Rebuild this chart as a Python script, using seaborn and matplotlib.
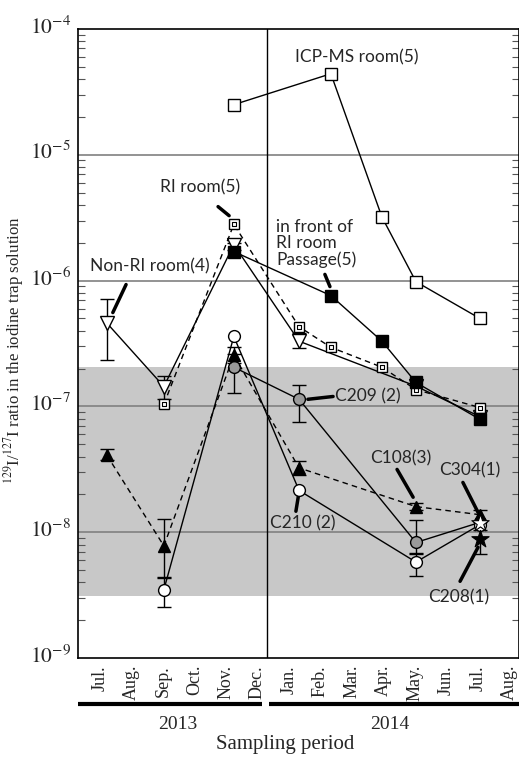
import numpy as np
import matplotlib
matplotlib.use("Agg")
import matplotlib.pyplot as plt
import matplotlib.ticker as mticker
import matplotlib.transforms as mtransforms
import seaborn as sns

# ---------------- data ----------------
months = ["Jul.", "Aug.", "Sep.", "Oct.", "Nov.", "Dec.", "Jan.", "Feb.",
          "Mar.", "Apr.", "May.", "Jun.", "Jul.", "Aug."]
years = ["2013", "2014"]
decades = [1e-9, 1e-8, 1e-7, 1e-6, 1e-5, 1e-4]
year_divider = 5.3          # month-index position of the 2013/2014 boundary
band_lo, band_hi = 3.1e-9, 2.05e-7   # grey range band

# sampling dates as fractional month index (0 = Jul. 2013)
icp_x = [4.25, 7.33, 8.95, 10.03, 12.06]
icp_y = [2.5e-5, 4.4e-5, 3.2e-6, 9.8e-7, 5.0e-7]

pass_x = [4.25, 7.33, 8.95, 10.03, 12.06]
pass_y = [1.70e-6, 7.6e-7, 3.3e-7, 1.55e-7, 7.9e-8]

ri_x = [2.03, 4.25, 6.32, 7.33, 8.95, 10.03, 12.06]
ri_y = [1.04e-7, 2.8e-6, 4.3e-7, 2.95e-7, 2.05e-7, 1.36e-7, 9.8e-8]

nonri_x = [0.22, 2.03, 4.25, 6.32, 10.03, 12.06]
nonri_y = [4.6e-7, 1.44e-7, 1.93e-6, 3.3e-7, 1.45e-7, 8.3e-8]
nonri_lo = [2.36e-7, 1.15e-7, 1.75e-6, 2.9e-7, np.nan, np.nan]
nonri_hi = [7.2e-7, 1.73e-7, 2.0e-6, 3.8e-7, np.nan, np.nan]

c209_x = [4.25, 6.32, 10.03, 12.06]
c209_y = [2.05e-7, 1.14e-7, 8.3e-9, 1.2e-8]
c209_lo = [1.29e-7, 7.5e-8, 6.7e-9, np.nan]
c209_hi = [2.6e-7, 1.47e-7, 1.25e-8, np.nan]

c210_x = [2.03, 4.25, 6.32, 10.03, 12.06]
c210_y = [3.5e-9, 3.6e-7, 2.15e-8, 5.8e-9, 1.15e-8]
c210_lo = [2.55e-9, np.nan, np.nan, 4.5e-9, np.nan]
c210_hi = [4.4e-9, np.nan, np.nan, 6.9e-9, np.nan]

c108_x = [0.22, 2.03, 4.25, 6.32, 10.03, 12.06]
c108_y = [4.1e-8, 7.8e-9, 2.55e-7, 3.25e-8, 1.6e-8, 1.38e-8]
c108_lo = [3.75e-8, 4.3e-9, 2.2e-7, 2.85e-8, 1.5e-8, 1.2e-8]
c108_hi = [4.55e-8, 1.27e-8, 2.95e-7, 3.7e-8, 1.7e-8, 1.5e-8]

c304_x = [12.06]
c304_y = [1.18e-8]

c208_x = [12.06]
c208_y = [8.9e-9]
c208_lo = [6.7e-9]
c208_hi = [1.05e-8]

# ---------------- style ----------------
sns.set_theme(style="ticks")
plt.rcParams["font.family"] = ["Liberation Serif", "DejaVu Serif"]
plt.rcParams["mathtext.fontset"] = "stix"
SANS = ["Lato", "DejaVu Sans"]

fig = plt.figure(figsize=(5.19, 7.60), dpi=100)
ax = fig.add_axes([0.150, 0.134, 0.850, 0.828])
ax.set_yscale("log")
ax.set_ylim(decades[0], decades[-1])
ax.set_xlim(-0.70, 13.30)

ax.axhspan(band_lo, band_hi, color="#c8c8c8", lw=0, zorder=0)
for v in decades[1:-1]:
    ax.axhline(v, color="#808080", lw=1.2, zorder=0.5)
ax.axvline(year_divider, color="black", lw=1.0, zorder=0.6)

dash = (0, (4, 3))

def err(x, y, lo, hi, z=2):
    x = np.asarray(x, float); y = np.asarray(y, float)
    lo = np.asarray(lo, float); hi = np.asarray(hi, float)
    m = ~np.isnan(lo)
    ax.errorbar(x[m], y[m], yerr=[y[m] - lo[m], hi[m] - y[m]], fmt="none",
                ecolor="black", elinewidth=1.0, capsize=5, capthick=1.0, zorder=z)

def line(x, y, ls, marker, ms, mfc, z):
    sns.lineplot(x=x, y=y, ax=ax, color="black", linestyle=ls, linewidth=1.0,
                 marker=marker, markersize=ms, markerfacecolor=mfc,
                 markeredgecolor="black", markeredgewidth=1.0, zorder=z,
                 estimator=None, sort=False)

# error bars
err(nonri_x, nonri_y, nonri_lo, nonri_hi)
err(c209_x, c209_y, c209_lo, c209_hi)
err(c210_x, c210_y, c210_lo, c210_hi)
err(c108_x, c108_y, c108_lo, c108_hi)
err(c208_x, c208_y, c208_lo, c208_hi)

# series
line(nonri_x, nonri_y, "-", "v", 10, "white", 3)
line(c209_x, c209_y, "-", "o", 8.5, "#9a9a9a", 3.2)
line(c210_x, c210_y, "-", "o", 8.5, "white", 3.3)
line(c108_x, c108_y, dash, "^", 9, "black", 3.4)
line(ri_x, ri_y, dash, "s", 6.5, "white", 3.5)
sns.scatterplot(x=ri_x, y=ri_y, ax=ax, marker="s", s=7, color="white",
                edgecolor="black", linewidth=0.8, zorder=3.6)
line(pass_x, pass_y, "-", "s", 8, "black", 3.7)
line(icp_x, icp_y, "-", "s", 8, "white", 3.8)
sns.scatterplot(x=c304_x, y=c304_y, ax=ax, marker="*", s=170, color="white",
                edgecolor="black", linewidth=0.8, zorder=4)
sns.scatterplot(x=c208_x, y=c208_y, ax=ax, marker="*", s=170, color="black",
                edgecolor="black", linewidth=0.8, zorder=4)

# ---------------- axes formatting ----------------
for s in ["top", "left", "bottom", "right"]:
    ax.spines[s].set_color("black")
    ax.spines[s].set_linewidth(1.2)

ax.set_yticks(decades)
ax.set_yticklabels([r"$10^{%d}$" % round(np.log10(v)) for v in decades])
ax.yaxis.set_minor_locator(mticker.FixedLocator(
    [m * d for d in decades[:-1] for m in range(2, 10)]))
ax.yaxis.set_minor_formatter(mticker.NullFormatter())
ax.tick_params(axis="y", which="major", direction="in", length=0, labelsize=15.5,
               left=True, right=True, pad=5)
ax.tick_params(axis="y", which="minor", direction="in", length=5, width=0.8,
               left=True, right=True, color="#555555")
up = mtransforms.ScaledTranslation(0, 4 / 100, fig.dpi_scale_trans)
for lab in ax.get_yticklabels():
    lab.set_transform(lab.get_transform() + up)

ax.set_xticks(range(len(months)))
ax.set_xticklabels(months, rotation=90, fontsize=13)
ax.tick_params(axis="x", length=0, pad=5)

ax.set_ylabel(r"${}^{129}$I/${}^{127}$I ratio in the iodine trap solution",
              fontsize=12.2, labelpad=6)
ax.yaxis.set_label_coords(-0.118, 0.49)

# year bars beneath month labels
trans = mtransforms.blended_transform_factory(ax.transData, ax.transAxes)
ax.plot([-0.70, 5.14], [-0.073, -0.073], color="black", lw=3, transform=trans,
        clip_on=False, solid_capstyle="butt")
ax.plot([5.36, 13.30], [-0.073, -0.073], color="black", lw=3, transform=trans,
        clip_on=False, solid_capstyle="butt")
ax.text(2.48, -0.105, years[0], transform=trans, ha="center", va="center", fontsize=14)
ax.text(9.21, -0.105, years[1], transform=trans, ha="center", va="center", fontsize=14)
fig.text(0.549, 0.020, "Sampling period", ha="center", va="center", fontsize=15)

# ---------------- annotations ----------------
akw = dict(arrowstyle="-", lw=2.5, color="black", shrinkA=0, shrinkB=0)
ax.text(8.16, 5.9e-5, "ICP-MS room(5)", family=SANS, fontsize=12.5, ha="center", va="center")
ax.text(3.17, 5.47e-6, "RI room(5)", family=SANS, fontsize=12.5, ha="center", va="center")
ax.annotate("", xy=(4.10, 3.28e-6), xytext=(3.75, 3.87e-6), arrowprops=akw)
ax.text(1.59, 1.29e-6, "Non-RI room(4)", family=SANS, fontsize=12.5, ha="center", va="center")
ax.annotate("", xy=(0.41, 5.57e-7), xytext=(0.83, 9.3e-7), arrowprops=akw)
ax.text(5.60, 1.97e-6, "in front of\nRI room\nPassage(5)", family=SANS, fontsize=12.5,
        ha="left", va="center", linespacing=1.05)
ax.annotate("", xy=(7.30, 8.96e-7), xytext=(7.14, 1.12e-6), arrowprops=akw)
ax.text(7.46, 1.2e-7, "C209 (2)", family=SANS, fontsize=12.5, ha="left", va="center")
ax.annotate("", xy=(7.40, 1.2e-7), xytext=(6.60, 1.14e-7), arrowprops=akw)
ax.text(6.44, 1.18e-8, "C210 (2)", family=SANS, fontsize=12.5, ha="center", va="center")
ax.annotate("", xy=(6.22, 1.47e-8), xytext=(6.30, 1.95e-8), arrowprops=akw)
ax.text(9.56, 3.86e-8, "C108(3)", family=SANS, fontsize=12.5, ha="center", va="center")
ax.annotate("", xy=(9.94, 1.9e-8), xytext=(9.43, 3.16e-8), arrowprops=akw)
ax.text(11.75, 3.1e-8, "C304(1)", family=SANS, fontsize=12.5, ha="center", va="center")
ax.annotate("", xy=(12.0, 1.44e-8), xytext=(11.52, 2.49e-8), arrowprops=akw)
ax.text(11.40, 3.05e-9, "C208(1)", family=SANS, fontsize=12.5, ha="center", va="center")
ax.annotate("", xy=(12.0, 7.6e-9), xytext=(11.43, 4.08e-9), arrowprops=akw)

fig.savefig("out.png", dpi=100)
